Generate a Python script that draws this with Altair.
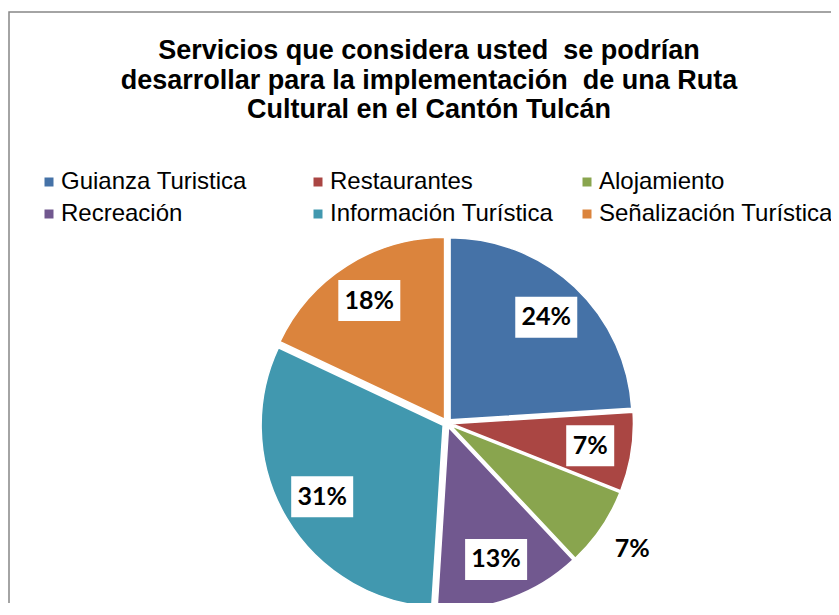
import altair as alt
import pandas as pd

categories = ["Guianza Turistica", "Restaurantes", "Alojamiento",
              "Recreación", "Información Turística", "Señalización Turística"]
values = [24, 7, 7, 13, 31, 18]
labels = ["24%", "7%", "7%", "13%", "31%", "18%"]
colors = ["#4572A7", "#AA4643", "#89A54E", "#71588F", "#4198AF", "#DB843D"]
title_lines = ["Servicios que considera usted \u00a0se podrían",
               "desarrollar para la implementación \u00a0de una Ruta",
               "Cultural en el Cantón Tulcán"]

df = pd.DataFrame({"cat": categories, "value": values, "label": labels,
                   "order": list(range(len(categories)))})

CX, CY, R, EXPLODE = 439, 265, 182, 4.5
LABEL_R, OUT_R = 145, 224
TOP = 150

base = (
    alt.Chart(df)
    .transform_window(cum="sum(value)", sort=[alt.SortField("order")], frame=[None, 0])
    .transform_joinaggregate(total="sum(value)")
    .transform_calculate(
        a0="(datum.cum - datum.value) / datum.total * 2 * PI",
        a1="datum.cum / datum.total * 2 * PI",
    )
    .transform_calculate(mid="(datum.a0 + datum.a1) / 2")
    .transform_calculate(
        ex=f"{CX} + {EXPLODE} * sin(datum.mid)",
        ey=f"{CY} - {EXPLODE} * cos(datum.mid)",
        lr=f"datum.cat == 'Alojamiento' ? {OUT_R} : {LABEL_R}",
    )
    .transform_calculate(
        lx=f"{CX} + datum.lr * sin(datum.mid)",
        ly=f"{CY} - datum.lr * cos(datum.mid)",
        hw="10 + 7 * length(datum.label)",
    )
    .transform_calculate(
        bx0="datum.lx - datum.hw",
        bx1="datum.lx + datum.hw",
        by0="datum.ly - 20.5",
        by1="datum.ly + 20.5",
    )
)

arcs = base.mark_arc(radius=R, stroke="white", strokeWidth=1.5).encode(
    x=alt.X("ex:Q", scale=None, axis=None),
    y=alt.Y("ey:Q", scale=None, axis=None),
    theta=alt.Theta("a0:Q", scale=None, stack=False),
    theta2="a1:Q",
    color=alt.Color(
        "cat:N",
        sort=categories,
        scale=alt.Scale(domain=categories, range=colors),
        legend=alt.Legend(
            orient="none", legendX=25, legendY=12, columns=3, direction="horizontal",
            title=None, symbolType="square", symbolSize=81, symbolStrokeWidth=0,
            labelFont="Liberation Sans", labelFontSize=24, labelColor="black",
            labelLimit=400, columnPadding=7, rowPadding=8, gridAlign="all",
            labelOffset=0, symbolOffset=4, padding=0,
        ),
    ),
)

boxes = base.transform_filter("datum.cat != 'Alojamiento'").mark_rect(fill="white").encode(
    x=alt.X("bx0:Q", scale=None, axis=None),
    x2="bx1:Q",
    y=alt.Y("by0:Q", scale=None, axis=None),
    y2="by1:Q",
)

texts = base.mark_text(font="Lato", fontWeight="bold", fontSize=25, color="black").encode(
    x=alt.X("lx:Q", scale=None, axis=None),
    y=alt.Y("ly:Q", scale=None, axis=None),
    text="label:N",
)

frame = alt.Chart(alt.Data(values=[{}])).mark_rect(
    filled=False, stroke="#878787", strokeWidth=1.5
).encode(
    x=alt.value(1), x2=alt.value(1000), y=alt.value(4 - TOP), y2=alt.value(1000)
)

title = alt.Chart(alt.Data(values=[{}])).mark_text(
    text=title_lines, font="Liberation Sans", fontSize=27, fontWeight="bold",
    color="black", align="center", baseline="alphabetic", lineHeight=29.5,
).encode(x=alt.value(421), y=alt.value(59 - 8 - TOP))

chart = alt.layer(frame, title, arcs, boxes, texts).properties(
    width=823,
    height=445,
    autosize="none",
    padding={"left": 0, "top": TOP, "right": 0, "bottom": 0},
).configure_view(strokeWidth=0)

chart.save("out.html", embed_options={"renderer": "svg", "actions": False})
